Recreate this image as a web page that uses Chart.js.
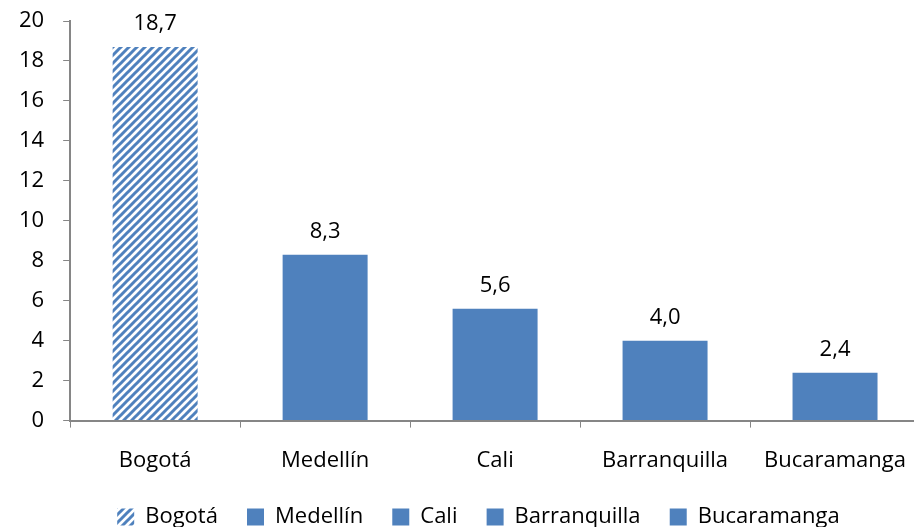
<!DOCTYPE html>
<html>
<head>
<meta charset="utf-8">
<script src="https://cdn.jsdelivr.net/npm/chart.js@4"></script>
<style>
  html, body { margin: 0; padding: 0; background: #fff; overflow: hidden; }
  #wrap { position: absolute; left: 0; top: 0; width: 926px; height: 538px; }
</style>
</head>
<body>
<div id="wrap"><canvas id="cityChart"></canvas></div>
<script>
// datos
const cities = ['Bogotá', 'Medellín', 'Cali', 'Barranquilla', 'Bucaramanga'];
const values = [18.7, 8.3, 5.6, 4.0, 2.4];
const yTicks = [0, 2, 4, 6, 8, 10, 12, 14, 16, 18, 20];

const blue = '#4F81BD';
const axisGray = '#868686';
const font = { family: 'Open Sans', size: 22 };

// trama rayada para Bogotá
function stripes() {
  const c = document.createElement('canvas');
  c.width = 8; c.height = 8;
  const g = c.getContext('2d');
  g.fillStyle = '#fff';
  g.fillRect(0, 0, 8, 8);
  g.strokeStyle = blue;
  g.lineWidth = 3;
  g.beginPath();
  g.moveTo(-2, 10); g.lineTo(10, -2);
  g.moveTo(-6, 6); g.lineTo(6, -6);
  g.moveTo(2, 14); g.lineTo(14, 2);
  g.stroke();
  return g.createPattern(c, 'repeat');
}
const hatch = stripes();
const colors = cities.map((c, i) => i === 0 ? hatch : blue);

// etiquetas de valor encima de cada barra
const valueLabels = {
  id: 'valueLabels',
  afterDatasetsDraw(chart) {
    const ctx = chart.ctx;
    const meta = chart.getDatasetMeta(0);
    ctx.save();
    ctx.font = font.size + 'px ' + font.family;
    ctx.fillStyle = '#000';
    ctx.textAlign = 'center';
    ctx.textBaseline = 'bottom';
    meta.data.forEach((bar, i) => {
      ctx.fillText(values[i].toFixed(1).replace('.', ','), bar.x, bar.y - 12);
    });
    ctx.restore();
  }
};

// leyenda un poco corrida a la derecha, como en el original
const legendShift = {
  id: 'legendShift',
  afterLayout(chart) {
    chart.legend.left += 24;
    chart.legend.right += 24;
  }
};

const ctx = document.getElementById('cityChart').getContext('2d');
const cityChart = new Chart(ctx, {
  type: 'bar',
  data: {
    labels: cities,
    datasets: [{
      data: values,
      backgroundColor: colors,
      categoryPercentage: 1,
      barPercentage: 0.5
    }]
  },
  plugins: [valueLabels, legendShift],
  options: {
    responsive: true,
    maintainAspectRatio: false,
    animation: false,
    layout: { padding: { top: 21, left: 0, right: 0, bottom: 0 } },
    plugins: {
      tooltip: { enabled: false },
      legend: {
        position: 'bottom',
        labels: {
          color: '#000',
          font: font,
          boxWidth: 17,
          boxHeight: 17,
          padding: 12,
          // espacios al final para separar los elementos
          generateLabels: () => cities.map((c, i) => ({
            text: c + '   ',
            fillStyle: colors[i],
            strokeStyle: 'rgba(0,0,0,0)',
            lineWidth: 0,
            index: i
          }))
        }
      }
    },
    scales: {
      x: {
        offset: true,
        grid: { offset: true, drawOnChartArea: false, drawTicks: true, tickLength: 7, color: axisGray },
        border: { display: true, color: axisGray, width: 2 },
        ticks: { color: '#000', font: font, padding: 20, maxRotation: 0 }
      },
      y: {
        min: 0,
        max: 20,
        afterBuildTicks: axis => { axis.ticks = yTicks.map(v => ({ value: v })); },
        afterFit: axis => { axis.paddingTop = 0; axis.paddingBottom = 0; },
        grid: { drawOnChartArea: false, drawTicks: true, tickLength: 7, color: axisGray },
        border: { display: true, color: axisGray, width: 2 },
        ticks: { color: '#000', font: font, padding: 19 }
      }
    }
  }
});
</script>
</body>
</html>
